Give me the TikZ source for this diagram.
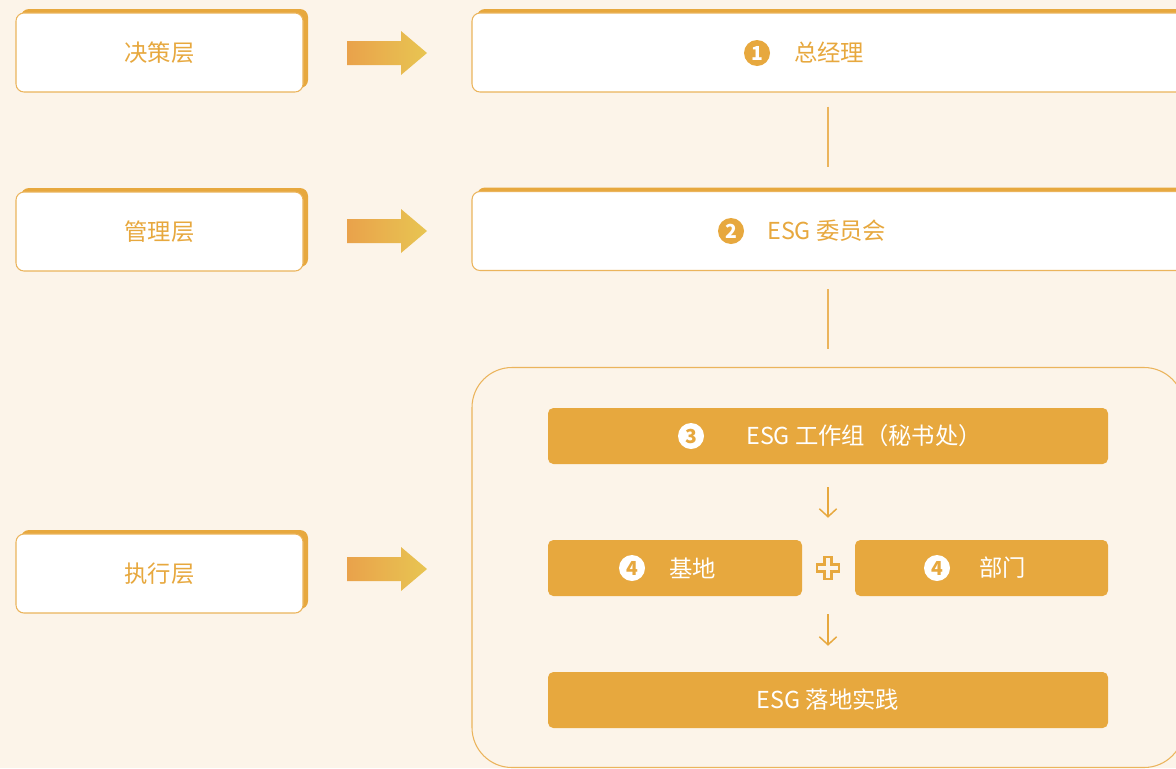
\documentclass[tikz,border=0pt]{standalone}
\usepackage{fontspec}
\setmainfont{Noto Sans CJK SC}
\usetikzlibrary{arrows.meta,positioning,shadows}
\definecolor{esgbg}{HTML}{FCF4E9}
\definecolor{esgorange}{HTML}{E7A83E}
\definecolor{esgline}{HTML}{EBB45C}
\definecolor{esgarrowl}{HTML}{E9A24B}
\definecolor{esgarrowr}{HTML}{E8C552}
\begin{document}
\begin{tikzpicture}[x=0.75pt,y=-0.75pt,
  every node/.style={font=\fontsize{17.5}{20}\selectfont},
  layerbox/.style={draw=esgline,line width=0.8pt,fill=white,rounded corners=6pt,
    text=esgorange,inner sep=0pt,
    copy shadow={shadow xshift=3.75pt,shadow yshift=3pt,fill=esgorange,draw=none}},
  leftbox/.style={layerbox,minimum width=215.25pt,minimum height=59.25pt},
  rightbox/.style={layerbox,minimum width=534pt,minimum height=59.25pt},
  zone/.style={draw=esgline,line width=0.8pt,rounded corners=30pt,
    minimum width=534pt,minimum height=300pt,inner sep=0pt},
  stepbar/.style={fill=esgorange,rounded corners=4pt,minimum height=42pt,
    inner sep=0pt,text=white},
  numdot/.style={circle,fill=esgorange,text=white,minimum size=19.5pt,inner sep=0pt,
    font=\fontsize{14.5}{15}\selectfont\bfseries},
  numdotw/.style={numdot,fill=white,text=esgorange},
  tag/.style={anchor=west,inner sep=0pt},
  linkline/.style={draw=esgline,line width=0.8pt},
  downarrow/.style={draw=esgorange,line width=1.1pt,-{Straight Barb[length=6pt,width=13pt,line width=1.1pt]}}]
\useasboundingbox (0,0) rectangle (1176,768);
\fill[esgbg] (0,0) rectangle (1176,768);
\clip (0,0) rectangle (1176,768);
% left column
\node[leftbox] (decide) at (159.5,52.5) {决策层};
\node[leftbox] (manage) at (159.5,231.5) {管理层};
\node[leftbox] (exec) at (159.5,573.5) {执行层};
% gradient arrows
\foreach \ay in {53,231,569}
  \shade[left color=esgarrowl,right color=esgarrowr]
    (347,\ay-12) -- (401,\ay-12) -- (401,\ay-22) -- (427,\ay)
    -- (401,\ay+22) -- (401,\ay+12) -- (347,\ay+12) -- cycle;
% right column
\node[rightbox] (gm) at (828,52.5) {};
\node[numdot] (n1) at (757,53) {1};
\node[tag,text=esgorange] (gmtext) at (794,53) {总经理};
\node[rightbox] (board) at (828,231) {};
\node[numdot] (n2) at (731,231) {2};
\node[tag,text=esgorange] (boardtext) at (767,231) {ESG 委员会};
\node[zone] (zone) at (828,567.5) {};
\draw[linkline,shorten <=10.5pt,shorten >=18pt] (gm.south) -- (board.north);
\draw[linkline,shorten <=13.5pt,shorten >=13.5pt] (board.south) -- (zone.north);
% execution steps
\node[stepbar,minimum width=420pt] (wg) at (828,436) {};
\node[numdotw] (n3) at (691,436) {3};
\node[tag,text=white] (wgtext) at (746,436) {ESG 工作组（秘书处）};
\node[stepbar,minimum width=190.5pt] (base) at (675,568) {};
\node[numdotw] (n4a) at (632,568) {4};
\node[tag,text=white] (basetext) at (669,568) {基地};
\node[stepbar,minimum width=189.75pt] (dept) at (981.5,568) {};
\node[numdotw] (n4b) at (937,568) {4};
\node[tag,text=white] (depttext) at (979,568) {部门};
\node[minimum size=16.5pt,inner sep=0pt] (plus) at (828,568) {};
\draw[esgorange,line width=1.6pt,fill=esgbg,shift={(plus.center)}]
  (-3.5,-11) -- (3.5,-11) -- (3.5,-3.5) -- (11,-3.5) -- (11,3.5) -- (3.5,3.5)
  -- (3.5,11) -- (-3.5,11) -- (-3.5,3.5) -- (-11,3.5) -- (-11,-3.5) -- (-3.5,-3.5) -- cycle;
\node[stepbar,minimum width=420pt] (practice) at (828,700) {ESG 落地实践};
\draw[downarrow,shorten <=17.25pt,shorten >=29.25pt] (wg.south) -- (plus.north);
\draw[downarrow,shorten <=26.25pt,shorten >=19.5pt] (plus.south) -- (practice.north);
\end{tikzpicture}
\end{document}
